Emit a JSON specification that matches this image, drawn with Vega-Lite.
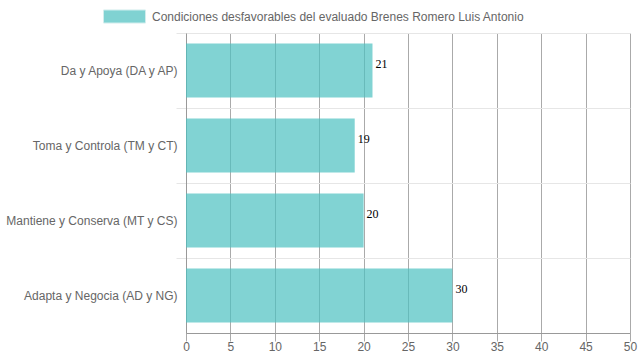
{
  "$schema": "https://vega.github.io/schema/vega-lite/v6.json",
  "width": 444,
  "height": 300,
  "autosize": "none",
  "padding": {"left": 186, "top": 33, "right": 9, "bottom": 27},
  "background": "white",
  "config": {"view": {"stroke": null}, "font": "Liberation Sans"},
  "data": {
    "values": [
      {"cat": "Da y Apoya (DA y AP)", "value": 21},
      {"cat": "Toma y Controla (TM y CT)", "value": 19},
      {"cat": "Mantiene y Conserva (MT y CS)", "value": 20},
      {"cat": "Adapta y Negocia (AD y NG)", "value": 30}
    ]
  },
  "encoding": {
    "y": {
      "field": "cat",
      "type": "nominal",
      "sort": null,
      "title": null,
      "scale": {"paddingInner": 0.28, "paddingOuter": 0.14},
      "axis": {
        "bandPosition": -0.1944,
        "grid": true,
        "gridColor": "#e6e6e6",
        "tickColor": "#e6e6e6",
        "tickSize": 10,
        "domainColor": "#999999",
        "labelColor": "#666666",
        "labelFontSize": 12,
        "labelPadding": -1,
        "labelFont": "Liberation Sans"
      }
    },
    "x": {
      "field": "value",
      "type": "quantitative",
      "title": null,
      "scale": {"domain": [0, 50], "nice": false},
      "axis": {
        "values": [0, 5, 10, 15, 20, 25, 30, 35, 40, 45, 50],
        "grid": true,
        "gridColor": "#aaaaaa",
        "tickColor": "#aaaaaa",
        "tickSize": 8,
        "labelPadding": 0,
        "domainColor": "#999999",
        "labelColor": "#666666",
        "labelFontSize": 12,
        "labelFont": "Liberation Sans",
        "labelFlush": false
      }
    }
  },
  "layer": [
    {
      "mark": {"type": "bar", "opacity": 0.7},
      "encoding": {
        "color": {
          "datum": "Condiciones desfavorables del evaluado Brenes Romero Luis Antonio",
          "type": "nominal",
          "scale": {"range": ["rgb(75,192,192)"]},
          "legend": {
            "orient": "none",
            "legendX": -83,
            "legendY": -38,
            "title": null,
            "padding": 0,
            "symbolType": "M-1,-0.31H1V0.31H-1Z",
            "symbolSize": 1764,
            "symbolOpacity": 0.7,
            "symbolStrokeColor": "#bfe6e6",
            "symbolStrokeWidth": 1,
            "labelFontSize": 12,
            "labelColor": "#666666",
            "labelFont": "Liberation Sans",
            "labelOffset": 6,
            "labelLimit": 0
          }
        }
      }
    },
    {
      "mark": {
        "type": "text",
        "align": "left",
        "baseline": "middle",
        "dx": 3,
        "dy": -7,
        "font": "Liberation Serif",
        "fontSize": 12,
        "color": "#000000"
      },
      "encoding": {"text": {"field": "value", "type": "quantitative"}}
    }
  ]
}
